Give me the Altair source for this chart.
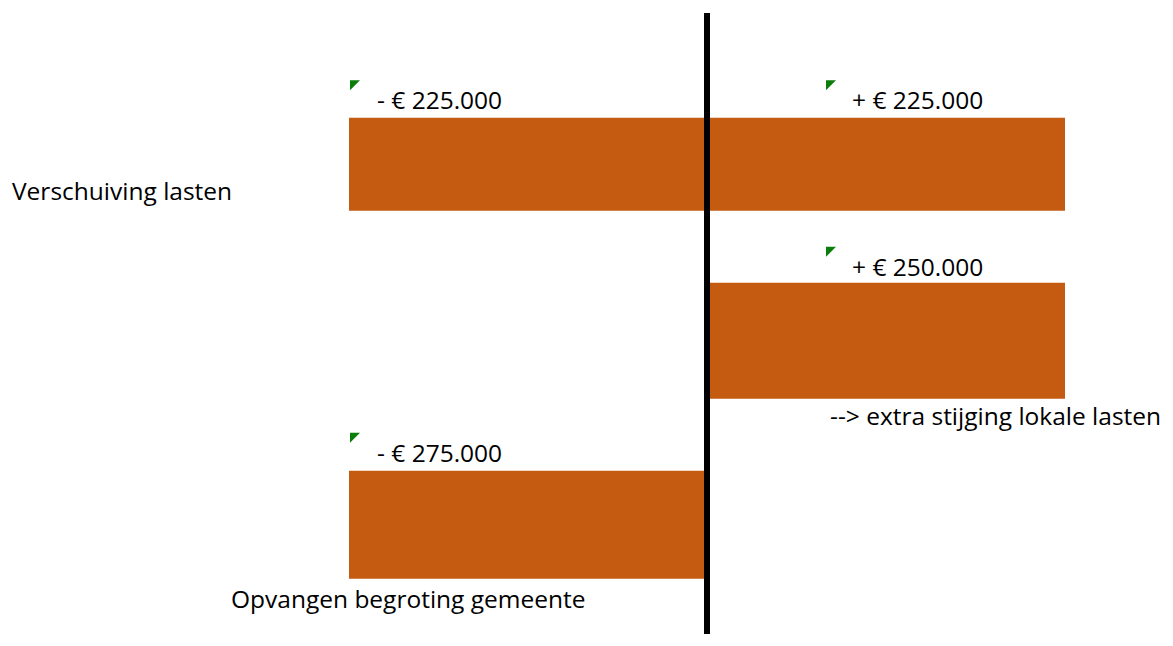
import altair as alt
import pandas as pd

# ---- data -------------------------------------------------------------
categories = ["Verschuiving lasten", "--> extra stijging lokale lasten", "Opvangen begroting gemeente"]
bar_category = ["Verschuiving lasten", "Verschuiving lasten",
                "--> extra stijging lokale lasten", "Opvangen begroting gemeente"]
bar_values = [-225000, 225000, 250000, -275000]
value_labels = ["- € 225.000", "+ € 225.000", "+ € 250.000", "- € 275.000"]

df = pd.DataFrame({"category": bar_category, "value": bar_values, "label": value_labels})
cat_df = pd.DataFrame({"category": categories})

# ---- styles -------------------------------------------------------------
W, H = 1157, 626
FONT = "Open Sans"
FS = 24.5
BAR = "#C55A11"
GREEN = "#0A7D0A"
ROW_STYLE = {
    "Verschuiving lasten": dict(bar=93, off=0, val_dy=-62, cat_dx=-695, cat_dy=29),
    "--> extra stijging lokale lasten": dict(bar=116, off=-3.7, val_dy=-72, cat_dx=123, cat_dy=77),
    "Opvangen begroting gemeente": dict(bar=108, off=0, val_dy=-70, cat_dx=-476, cat_dy=76),
}
SIDE_STYLE = {-1: dict(label_dx=-330, tri_dx=-352), 1: dict(label_dx=145, tri_dx=124)}

xscale = alt.Scale(domain=[-1.9525, 1.2793], nice=False, zero=False)
yscale = alt.Scale(type="point", domain=categories, padding=0.7365, align=0.5887)

base = alt.Chart(df).transform_calculate(
    side="datum.value < 0 ? -1 : 1", zero="0")
cbase = alt.Chart(cat_df).transform_calculate(zero="0")
X0 = alt.X("zero:Q", scale=xscale, axis=None)
Y = alt.Y("category:N", scale=yscale, axis=None, sort=categories)

layers = []
for cat, st in ROW_STYLE.items():
    rowbase = base.transform_filter(alt.datum.category == cat)
    layers.append(
        rowbase.mark_bar(color=BAR, size=st["bar"], yOffset=st["off"]).encode(
            x=alt.X("side:Q", scale=xscale, axis=None),
            x2="zero:Q",
            y=Y,
        )
    )
    for side, ss in SIDE_STYLE.items():
        sb = rowbase.transform_filter(f"datum.side == {side}")
        layers.append(
            sb.mark_text(align="left", baseline="middle", font=FONT, fontSize=FS,
                         color="black", dx=ss["label_dx"], dy=st["val_dy"],
                         yOffset=st["off"]).encode(
                x=X0, y=Y, text="label:N")
        )
        layers.append(
            sb.mark_point(shape="M -1 -1 L 1 -1 L -1 1 Z", filled=True, size=100,
                          color=GREEN, opacity=1, strokeWidth=0,
                          xOffset=ss["tri_dx"],
                          yOffset=st["off"] + st["val_dy"] - 17).encode(x=X0, y=Y)
        )
    layers.append(
        cbase.transform_filter(alt.datum.category == cat).mark_text(
            align="left", baseline="middle", font=FONT, fontSize=FS, color="black",
            dx=st["cat_dx"], dy=st["cat_dy"], yOffset=st["off"]).encode(
            x=X0, y=Y, text="category:N")
    )

rule = cbase.transform_filter(alt.datum.category == categories[0]).mark_rule(
    color="black", strokeWidth=6).encode(x=X0, y=alt.value(5), y2=alt.value(H))
layers.append(rule)

chart = alt.layer(*layers).properties(
    width=W, height=H, padding=0, autosize=alt.AutoSizeParams(type="none")
).configure_view(strokeWidth=0)

chart.save("out.html", embed_options={"renderer": "svg", "actions": False})
